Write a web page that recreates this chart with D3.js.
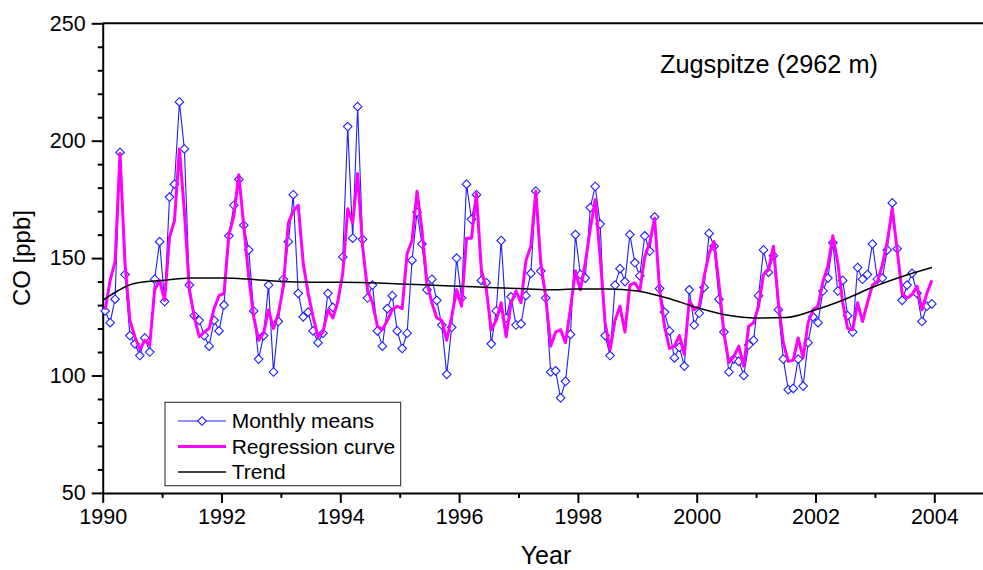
<!DOCTYPE html>
<html>
<head>
<meta charset="utf-8">
<script src="https://cdn.jsdelivr.net/npm/d3@7"></script>
<style>
body { margin: 0; background: #fff; }
#mioGrafico svg { display: block; font-family: Arial, "Liberation Sans", sans-serif; }
</style>
</head>
<body>
<div id="mioGrafico"></div>
<script>
// Dati (CO alla Zugspitze, un valore per mese dal 1990 al 2003)
var annoInizio = 1990;
var medieMensili = [
	127.5, 122.5, 132.5, 195, 143, 117, 113.5, 108.5, 116, 110, 141, 157,
	131.5, 176, 181.5, 216.5, 196.5, 138.5, 125.5, 123.5, 117, 112.5, 123.5, 119,
	130, 159.5, 172.5, 183.5, 164, 153.5, 127.5, 107, 117, 138.5, 101.5, 123,
	141, 157, 177, 135, 125, 127, 119, 114, 118, 135, 129, null,
	150.5, 206, 158.5, 214.5, 158, 133, 138.5, 119, 112.5, 128.5, 134, 119,
	111.5, 118, 149, 169.5, 156, 136.5, 141, 132, 121.5, 100.5, 120.5, 150,
	133, 181.5, 166.5, 177, 140.5, 139.5, 113.5, 127.5, 157.5, 124.5, 133.5, 121.5,
	122, 134, 143.5, 178.5, 144.5, 133, 101.5, 102, 90.5, 97.5, 117.5, 160,
	143, 141.5, 171.5, 180.5, 164.5, 117, 108.5, 138.5, 145.5, 140, 160, 148,
	142.5, 159.5, 153, 167.5, 137, 127, 119, 107.5, 112, 104, 136.5, 121.5,
	126.5, 137.5, 160.5, 155, 132.5, 118.5, 101.5, 107, 106, 100, 113, 115,
	134, 153.5, 144, 151, 128, 107, 94, 94.5, 107, 95.5, 114, 125,
	122.5, 136, 141.5, 156.5, 136, 140.5, 125.5, 118.5, 146, 141, 143, 156,
	141, 141.5, 153.5, 173.5, 154, 132, 138.5, 143.5, 135, 123, 129.5, 130.5
];
var curvaRegressione = [
	128, 140.5, 148.5, 194.5, 148, 123.5, 116.5, 111, 115, 113, 136.5, 140.5,
	132, 159, 166, 196.5, 170, 136.5, 125, 116.5, 118.5, 120, 128.5, 134,
	135, 160, 168, 185.5, 163.5, 142, 125, 115, 118, 128, 120, 126.5,
	138, 165, 170, 172.5, 148, 135, 125, 116.5, 118.5, 128, 124.5, 131.5,
	143.5, 171, 165, 186, 155, 136.5, 131, 121, 119.5, 123.5, 128, 129.5,
	128.5, 152, 157.5, 178.5, 162, 139.5, 131, 124.5, 123.5, 115, 125, 136.5,
	129.5, 158.5, 158.5, 177.5, 145, 136.5, 119.5, 123.5, 131, 116.5, 131, 136,
	131, 149, 155, 178.5, 148, 133.5, 112.5, 118.5, 119.5, 114, 128.5, 144.5,
	136.5, 148, 162.5, 175, 150.5, 122.5, 111, 123.5, 129.5, 118.5, 138.5, 139.5,
	136, 150.5, 156.5, 167, 136.5, 121, 111.5, 112.5, 117, 109, 132, 128,
	129.5, 142, 152, 157, 139, 118, 105.5, 108, 112.5, 104, 121, 122.5,
	129.5, 143, 145, 155, 131, 114, 106, 106.5, 116, 107.5, 122.5, 128,
	129.5, 140, 146.5, 159.5, 148, 131, 120, 119.5, 131, 123, 131, 138.5,
	140, 147, 157, 171, 153.5, 135, 133, 134.5, 138, 128, 135, 140.5
];
// Trend letto ogni mezzo anno
var trendAnni = [1990, 1990.25, 1990.5, 1991, 1991.5, 1992, 1992.5, 1993, 1993.5, 1994, 1994.5, 1995, 1995.5,
	1996, 1996.5, 1997, 1997.5, 1998, 1998.5, 1999, 1999.5, 2000, 2000.5, 2001, 2001.5, 2002, 2002.5, 2003, 2003.5, 2003.96];
var trendValori = [132, 136, 139, 140.5, 141.5, 141.5, 141, 140, 139.7, 139.7, 139.5, 139, 138.5,
	138, 137.5, 137, 136.5, 136.8, 136.8, 136, 133, 129, 125.8, 124.5, 124.7, 128, 132.5, 138, 142.5, 146];
var tickAnni = [1990, 1992, 1994, 1996, 1998, 2000, 2002, 2004];
var tickAnniMinori = [1991, 1993, 1995, 1997, 1999, 2001, 2003, 2005];
var tickCO = [50, 100, 150, 200, 250];
var tickCOMinori = [60, 70, 80, 90, 110, 120, 130, 140, 160, 170, 180, 190, 210, 220, 230, 240];
var vociLegenda = ["Monthly means", "Regression curve", "Trend"];

// Imposto le dimensioni e i margini del grafico
var margin = {top: 23.3, right: 0, bottom: 77.1, left: 102.7};
var width = 983 - margin.left - margin.right;
var height = 570 - margin.top - margin.bottom;

var svg = d3.select("#mioGrafico")
	.append("svg")
	.attr("width", 983)
	.attr("height", 570)
	.append("g")
	.attr("transform", "translate(" + margin.left + "," + margin.top + ")");

// Scale (l'asse X prosegue oltre il bordo destro, come nell'originale)
var x = d3.scaleLinear()
	.domain([1990, 2005])
	.range([0, 15 * 59.4]);
var y = d3.scaleLinear()
	.domain([50, 250])
	.range([height, 0]);

var mesi = medieMensili.map(function (v, i) {
	return {t: annoInizio + (i + 0.5) / 12, v: v, r: curvaRegressione[i]};
});
var trend = trendAnni.map(function (a, i) { return {t: a, v: trendValori[i]}; });

// Asse X
svg.append("g")
	.attr("class", "asse")
	.attr("transform", "translate(0," + height + ")")
	.call(d3.axisBottom(x).tickValues(tickAnni).tickFormat(d3.format("d"))
		.tickSize(10).tickSizeOuter(0).tickPadding(6));
svg.append("g")
	.attr("class", "asse minori")
	.attr("transform", "translate(0," + height + ")")
	.call(d3.axisBottom(x).tickValues(tickAnniMinori).tickFormat("").tickSize(5).tickSizeOuter(0));

// Asse Y
svg.append("g")
	.attr("class", "asse")
	.call(d3.axisLeft(y).tickValues(tickCO).tickSize(11).tickSizeOuter(0).tickPadding(6));
svg.append("g")
	.attr("class", "asse minori")
	.call(d3.axisLeft(y).tickValues(tickCOMinori).tickFormat("").tickSize(5).tickSizeOuter(0));

// Linea superiore del riquadro
svg.append("line")
	.attr("x1", 0).attr("x2", width)
	.attr("y1", 0).attr("y2", 0)
	.attr("stroke", "black")
	.attr("stroke-width", 2);

svg.selectAll(".asse path, .asse line")
	.attr("stroke", "black")
	.attr("stroke-width", 2);
svg.selectAll(".minori path").remove();
svg.selectAll(".asse text")
	.attr("fill", "black")
	.style("font-size", "21.5px");

// Medie mensili
var lineaMesi = d3.line()
	.defined(function (d) { return d.v != null; })
	.x(function (d) { return x(d.t); })
	.y(function (d) { return y(d.v); });
svg.append("path")
	.datum(mesi)
	.attr("fill", "none")
	.attr("stroke", "#1f1fff")
	.attr("stroke-width", 1.1)
	.attr("d", lineaMesi);

var rombo = "M0,-4.3L4.3,0L0,4.3L-4.3,0Z";
svg.append("g")
	.selectAll("path")
	.data(mesi.filter(function (d) { return d.v != null; }))
	.enter()
	.append("path")
	.attr("d", rombo)
	.attr("transform", function (d) { return "translate(" + x(d.t) + "," + y(d.v) + ")"; })
	.attr("fill", "white")
	.attr("stroke", "#1f1fff")
	.attr("stroke-width", 1.1);

// Curva di regressione
svg.append("path")
	.datum(mesi)
	.attr("fill", "none")
	.attr("stroke", "#ff00ff")
	.attr("stroke-width", 3)
	.attr("stroke-linejoin", "round")
	.attr("d", d3.line()
		.x(function (d) { return x(d.t); })
		.y(function (d) { return y(d.r); }));

// Trend
svg.append("path")
	.datum(trend)
	.attr("fill", "none")
	.attr("stroke", "black")
	.attr("stroke-width", 1.5)
	.attr("d", d3.line()
		.curve(d3.curveMonotoneX)
		.x(function (d) { return x(d.t); })
		.y(function (d) { return y(d.v); }));

// Titolo e etichette degli assi
var root = d3.select("#mioGrafico svg");
root.append("text")
	.attr("x", 660)
	.attr("y", 73)
	.style("font-size", "25.3px")
	.text("Zugspitze (2962 m)");
root.append("text")
	.attr("transform", "translate(30," + (margin.top + height / 2) + ") rotate(-90)")
	.attr("text-anchor", "middle")
	.style("font-size", "24px")
	.text("CO [ppb]");
root.append("text")
	.attr("x", 546)
	.attr("y", 564)
	.attr("text-anchor", "middle")
	.style("font-size", "25px")
	.text("Year");

// Legenda
var legenda = root.append("g").attr("transform", "translate(165,402.3)");
legenda.append("rect")
	.attr("width", 235.7)
	.attr("height", 83.4)
	.attr("fill", "white")
	.attr("stroke", "#222")
	.attr("stroke-width", 1);
var stili = [
	{colore: "#1f1fff", spessore: 1.1},
	{colore: "#ff00ff", spessore: 3},
	{colore: "black", spessore: 1.5}
];
vociLegenda.forEach(function (voce, i) {
	var yy = 18.7 + i * 25.5;
	legenda.append("line")
		.attr("x1", 13).attr("x2", 61)
		.attr("y1", yy).attr("y2", yy)
		.attr("stroke", stili[i].colore)
		.attr("stroke-width", stili[i].spessore);
	if (i == 0) {
		legenda.append("path")
			.attr("d", rombo)
			.attr("transform", "translate(37," + yy + ")")
			.attr("fill", "white")
			.attr("stroke", "#1f1fff")
			.attr("stroke-width", 1.1);
	}
	legenda.append("text")
		.attr("x", 66.7)
		.attr("y", yy + 7.5)
		.style("font-size", "21px")
		.text(voce);
});
</script>
</body>
</html>
